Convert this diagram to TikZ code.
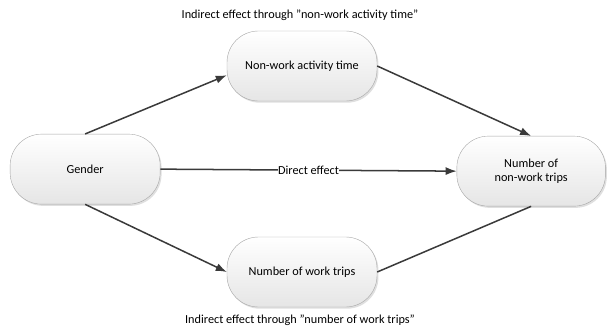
\documentclass[tikz,border=0pt]{standalone}
\usepackage{fontspec}
\setmainfont{Carlito}
\usetikzlibrary{shadows,arrows.meta}
\definecolor{linegrey}{HTML}{3A3A3A}
\definecolor{boxgrey}{HTML}{A6A6A6}

\begin{document}
\begin{tikzpicture}[font=\fontsize{12.2}{14}\selectfont,
  box/.style = {shape=rectangle, rounded corners=1.1cm, draw=boxgrey,
    top color=white, bottom color=black!10, minimum width=5.25cm,
    minimum height=2.45cm, align=center,
    drop shadow={opacity=0.25, shadow xshift=0.05cm, shadow yshift=-0.06cm}},
  link/.style = {draw=linegrey, line width=1.5pt},
  tip/.style = {-{Latex[length=11pt,width=8pt]}}]
  	\useasboundingbox (0,0) rectangle (21.28,-11.55);

  	\node[box] (Gender) at (2.98,-5.92) {Gender};
  	\node[box] (ActTime) at (10.57,-2.31) {Non-work activity time};
  	\node[box] (WorkTrips) at (10.57,-9.52) {Number of work trips};
  	\node[box, minimum width=5.2cm] (NonWorkTrips) at (18.59,-5.99) {Number of\\non-work trips};

  	\node (TopLabel) at (10.5,-0.53) {Indirect effect through ”non-work activity time”};
  	\node (BottomLabel) at (10.5,-11.2) {Indirect effect through ”number of work trips”};

  	\draw[tip,link] (Gender.north) -- (ActTime.187);
  	\draw[tip,link] (ActTime.east) -- (NonWorkTrips.north);
  	\draw[tip,link] (Gender.south) -- (WorkTrips.west);
  	\draw[link] (WorkTrips.east) -- (NonWorkTrips.south);
  	\draw[tip,link] (Gender.east) -- node[fill=white, inner sep=0.5pt] {Direct effect} (NonWorkTrips.west);

\end{tikzpicture}
\end{document}
